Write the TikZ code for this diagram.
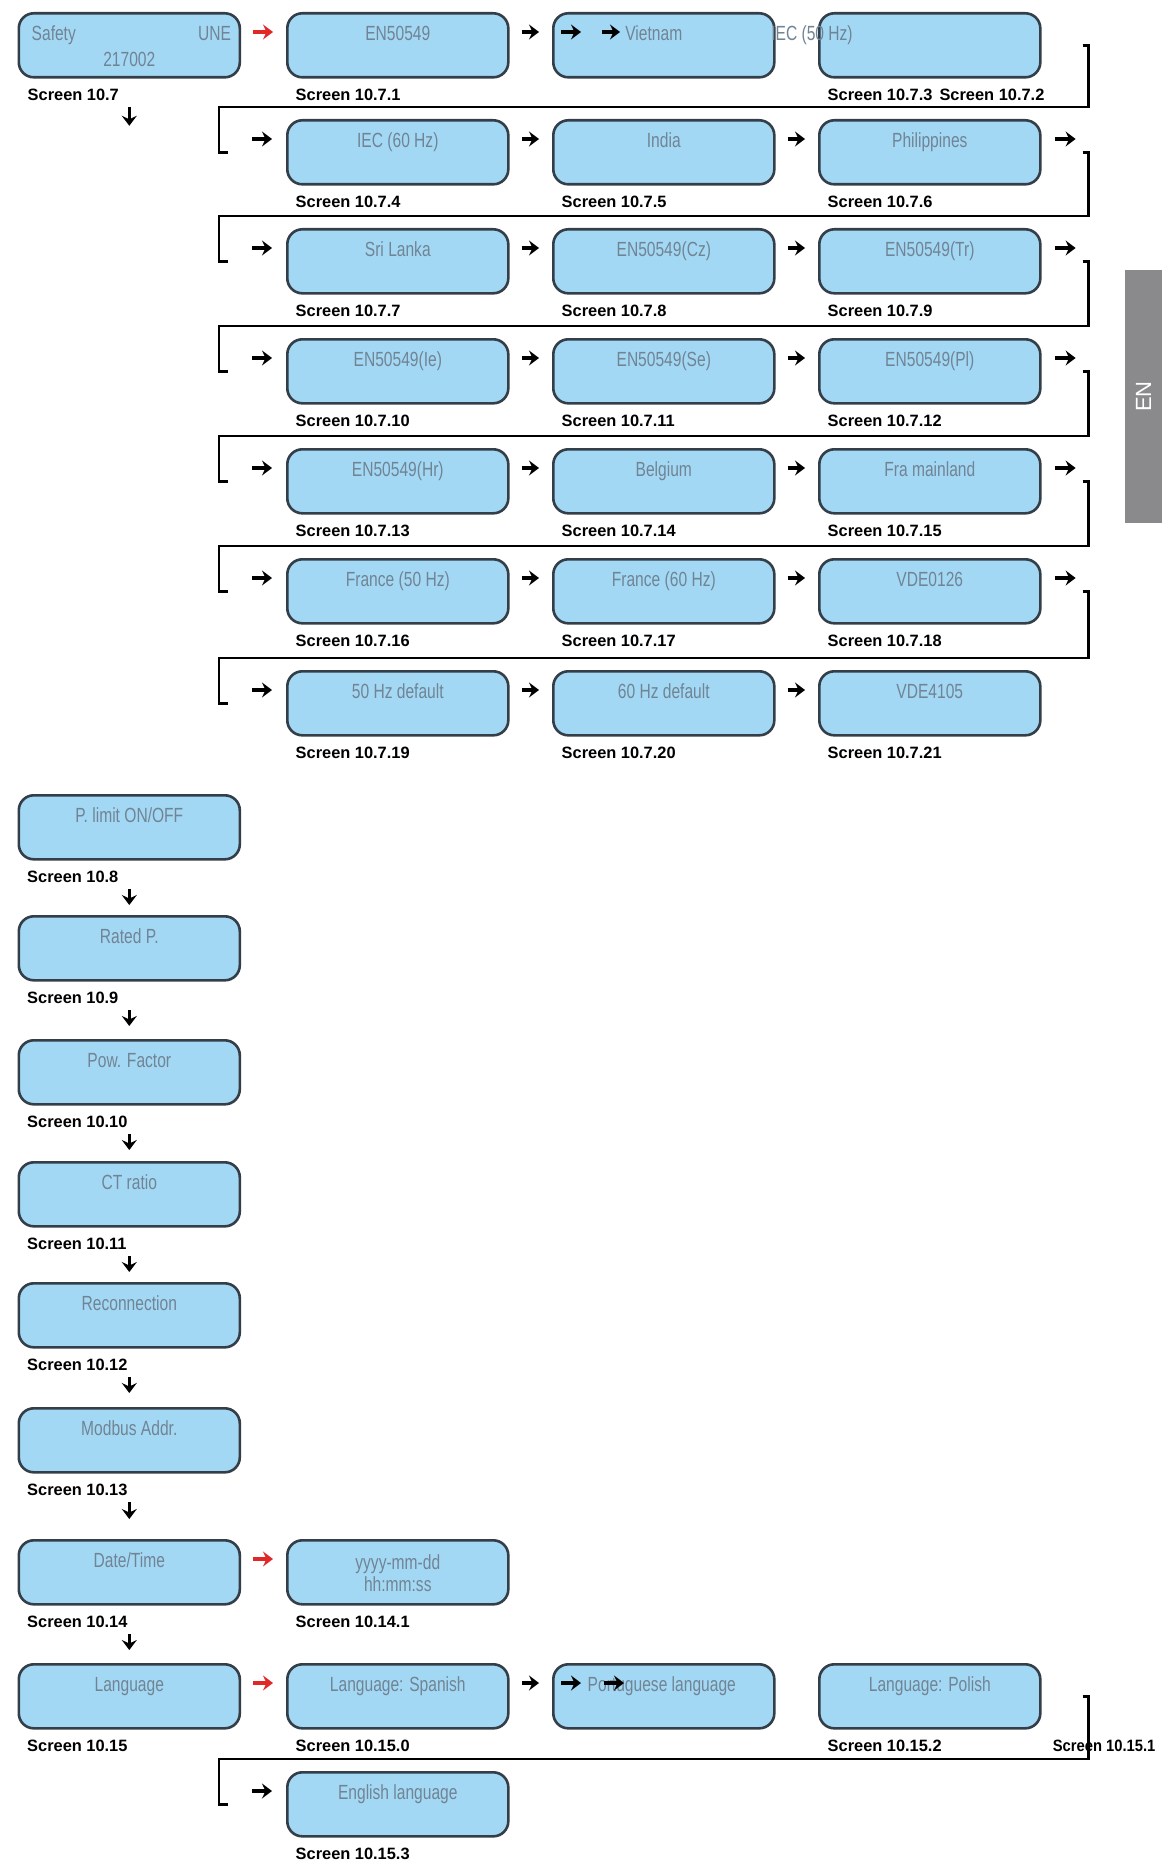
\documentclass[tikz,border=0pt]{standalone}
\usepackage{fontspec}
\setmainfont{Liberation Sans}
\newfontfamily\boxfnt[FakeStretch=0.76]{Liberation Sans}
\usetikzlibrary{arrows.meta,calc}
\definecolor{boxblue}{RGB}{163,216,245}
\definecolor{boxedge}{RGB}{52,62,72}
\definecolor{txtgray}{RGB}{112,132,148}
\definecolor{arrred}{RGB}{225,40,40}
\definecolor{tabgray}{RGB}{138,138,140}
\tikzset{
 box/.style={draw=boxedge, fill=boxblue, line width=2.6pt, rounded corners=15pt,
   minimum width=221pt, minimum height=64pt, inner sep=0pt, anchor=north west},
 btxt/.style={font=\boxfnt\fontsize{20.5}{24}\selectfont, text=txtgray, inner sep=0pt,
   text height=15pt, text depth=0pt},
 slbl/.style={font=\bfseries\fontsize{16.4}{18}\selectfont, inner sep=0pt,
   text height=12pt, text depth=0pt, anchor=west},
 rarr/.style={line width=3.6pt, -{Stealth[length=10pt,width=15pt,inset=3.5pt]}},
 redarr/.style={rarr, draw=arrred, fill=arrred},
 brk/.style={line width=2.6pt, line join=miter}
}
\newcommand\mybx[4]{\node[box] (#1) at (#2,-#3) {};\node[btxt] (#1t) at ([yshift=-21pt]#1.north) {#4};}
\newcommand\mybxe[3]{\node[box] (#1) at (#2,-#3) {};}
\newcommand\mylb[2]{\node[slbl] (#1l) at ([xshift=9.5pt,yshift=-16pt]#1.south west) {#2};}
\newcommand\myra[3][rarr]{\draw[#1,shorten <=12pt,shorten >=13pt] ([yshift=-20pt]#2.north east) -- ([yshift=-20pt]#3.north west);}
\newcommand\myea[1]{\draw[rarr] ([xshift=-34pt,yshift=-20pt]#1.north west) -- ([xshift=-14pt,yshift=-20pt]#1.north west);}
\newcommand\myxa[1]{\draw[rarr] ([xshift=13pt,yshift=-20pt]#1.north east) -- ([xshift=34pt,yshift=-20pt]#1.north east);}
\newcommand\mybrk[2]{\draw[brk] ([xshift=41pt]#1.east) -- ++(6pt,0) |- ([xshift=-67pt,yshift=12pt]#2.north west) |- ([xshift=-58pt]#2.west);}
\newcommand\myda[3]{\draw[rarr,shorten <=6pt,shorten >=#3] (#1l.south -| #1.south) -- (#2.north);}
\begin{document}
\begin{tikzpicture}[x=1pt,y=1pt]
\useasboundingbox (0,0) rectangle (1162,-1862);
\fill[white] (0,0) rectangle (1162,-1862);

% ---------- row 1
\node[box] (r1c0) at (17.5,-12) {};
\node[btxt,anchor=west] (r1c0a) at ([xshift=14pt,yshift=-21pt]r1c0.north west) {Safety};
\node[btxt,anchor=east] (r1c0b) at ([xshift=-10pt,yshift=-21pt]r1c0.north east) {UNE};
\node[btxt] (r1c0c) at ([yshift=-47pt]r1c0.north) {217002};
\node[slbl] (r1c0l) at ([xshift=10pt,yshift=-16pt]r1c0.south west) {Screen 10.7};
\draw[rarr,shorten <=6pt] (r1c0l.south -| r1c0.south) -- ++(0,-25pt);
\mybx{r1c1}{286}{12}{EN50549}\mylb{r1c1}{Screen 10.7.1}
\mybxe{r1c2}{552}{12}
\node[btxt] (r1c2t) at ([xshift=-10pt,yshift=-21pt]r1c2.north) {Vietnam};
\draw[rarr] ([xshift=9pt,yshift=-20pt]r1c2.north west) -- ([xshift=29pt,yshift=-20pt]r1c2.north west);
\draw[rarr] ([xshift=50pt,yshift=-20pt]r1c2.north west) -- ([xshift=68pt,yshift=-20pt]r1c2.north west);
\mybxe{r1c3}{818}{12}
\node[btxt] (r1c3t) at ([xshift=-6pt,yshift=-21pt]r1c3.north west) {IEC (50 Hz)};
\node[slbl] (r1c3l) at ([xshift=9.5pt,yshift=-16pt]r1c3.south west) {Screen 10.7.3\hspace{7pt}Screen 10.7.2};
\myra[redarr]{r1c0}{r1c1}
\myra{r1c1}{r1c2}

% ---------- rows 2-7
\mybx{r2c1}{286}{119}{IEC (60 Hz)}\mylb{r2c1}{Screen 10.7.4}
\mybx{r2c2}{552}{119}{India}\mylb{r2c2}{Screen 10.7.5}
\mybx{r2c3}{818}{119}{Philippines}\mylb{r2c3}{Screen 10.7.6}

\mybx{r3c1}{286}{228}{Sri Lanka}\mylb{r3c1}{Screen 10.7.7}
\mybx{r3c2}{552}{228}{EN50549(Cz)}\mylb{r3c2}{Screen 10.7.8}
\mybx{r3c3}{818}{228}{EN50549(Tr)}\mylb{r3c3}{Screen 10.7.9}

\mybx{r4c1}{286}{338}{EN50549(Ie)}\mylb{r4c1}{Screen 10.7.10}
\mybx{r4c2}{552}{338}{EN50549(Se)}\mylb{r4c2}{Screen 10.7.11}
\mybx{r4c3}{818}{338}{EN50549(Pl)}\mylb{r4c3}{Screen 10.7.12}

\mybx{r5c1}{286}{448}{EN50549(Hr)}\mylb{r5c1}{Screen 10.7.13}
\mybx{r5c2}{552}{448}{Belgium}\mylb{r5c2}{Screen 10.7.14}
\mybx{r5c3}{818}{448}{Fra mainland}\mylb{r5c3}{Screen 10.7.15}

\mybx{r6c1}{286}{558}{France (50 Hz)}\mylb{r6c1}{Screen 10.7.16}
\mybx{r6c2}{552}{558}{France (60 Hz)}\mylb{r6c2}{Screen 10.7.17}
\mybx{r6c3}{818}{558}{VDE0126}\mylb{r6c3}{Screen 10.7.18}

\mybx{r7c1}{286}{670}{50 Hz default}\mylb{r7c1}{Screen 10.7.19}
\mybx{r7c2}{552}{670}{60 Hz default}\mylb{r7c2}{Screen 10.7.20}
\mybx{r7c3}{818}{670}{VDE4105}\mylb{r7c3}{Screen 10.7.21}

\foreach \r in {2,...,7}{\myea{r\r c1}\myra{r\r c1}{r\r c2}\myra{r\r c2}{r\r c3}}
\foreach \r in {2,...,6}{\myxa{r\r c3}}
\mybrk{r1c3}{r2c1}
\mybrk{r2c3}{r3c1}
\mybrk{r3c3}{r4c1}
\mybrk{r4c3}{r5c1}
\mybrk{r5c3}{r6c1}
\mybrk{r6c3}{r7c1}

% ---------- lower column
\mybx{p1}{17.5}{794}{P. limit ON/OFF}\mylb{p1}{Screen 10.8}
\mybx{p2}{17.5}{915}{Rated P.}\mylb{p2}{Screen 10.9}
\mybx{p3}{17.5}{1039}{Pow. Factor}\mylb{p3}{Screen 10.10}
\mybx{p4}{17.5}{1161}{CT ratio}\mylb{p4}{Screen 10.11}
\mybx{p5}{17.5}{1282}{Reconnection}\mylb{p5}{Screen 10.12}
\mybx{p6}{17.5}{1407}{Modbus Addr.}\mylb{p6}{Screen 10.13}
\mybx{p7}{17.5}{1539}{Date/Time}\mylb{p7}{Screen 10.14}
\mybx{p8}{17.5}{1663}{Language}\mylb{p8}{Screen 10.15}
\myda{p1}{p2}{10pt}
\myda{p2}{p3}{13pt}
\myda{p3}{p4}{11pt}
\myda{p4}{p5}{10pt}
\myda{p5}{p6}{14pt}
\myda{p6}{p7}{20pt}
\myda{p7}{p8}{13pt}

% date / time
\mybxe{y1}{286}{1539}
\node[btxt] (y1a) at ([yshift=-23pt]y1.north) {yyyy-mm-dd};
\node[btxt] (y1b) at ([yshift=-45pt]y1.north) {hh:mm:ss};
\mylb{y1}{Screen 10.14.1}
\myra[redarr]{p7}{y1}

% language
\mybx{g1}{286}{1663}{Language: Spanish}\mylb{g1}{Screen 10.15.0}
\mybxe{g2}{552}{1663}
\node[btxt] (g2t) at ([xshift=-2pt,yshift=-21pt]g2.north) {Portuguese language};
\draw[rarr] ([xshift=9pt,yshift=-20pt]g2.north west) -- ([xshift=29pt,yshift=-20pt]g2.north west);
\draw[rarr] ([xshift=52pt,yshift=-20pt]g2.north west) -- ([xshift=72pt,yshift=-20pt]g2.north west);
\mybx{g3}{818}{1663}{Language: Polish}\mylb{g3}{Screen 10.15.2}
\node[slbl] (g3m) at ([xshift=11pt,yshift=-16pt]g3.south east) {\scalebox{0.9}[1]{Screen 10.15.1}};
\mybx{g4}{286}{1771}{English language}\mylb{g4}{Screen 10.15.3}
\myra[redarr]{p8}{g1}
\myra{g1}{g2}
\mybrk{g3}{g4}
\myea{g4}

% EN tab
\node[fill=tabgray, text=white, rotate=90, minimum width=253pt, minimum height=37pt,
  inner sep=0pt, font=\fontsize{22}{24}\selectfont] (entab) at (1143.5,-396.5) {EN};
\end{tikzpicture}
\end{document}
